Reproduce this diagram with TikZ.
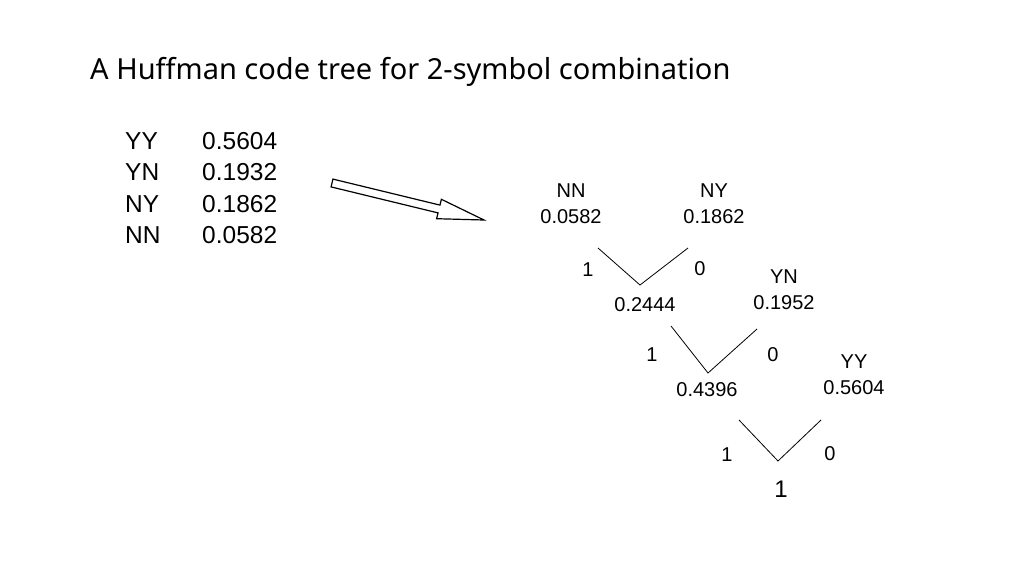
\documentclass[tikz,border=0pt]{standalone}
\usepackage{fontspec}
\setmainfont{Liberation Sans}
\newfontfamily\titlefont{Noto Sans}
\begin{document}
\begin{tikzpicture}[x=1pt,y=-1pt,
  tbl/.style={font=\fontsize{24.5}{28}\selectfont, anchor=west, inner sep=0},
  lbl/.style={font=\fontsize{20}{24}\selectfont, inner sep=0},
  edge/.style={line width=0.8pt}]
\useasboundingbox (0,0) rectangle (1024,576);
\node[anchor=west, inner sep=0, font=\titlefont\fontsize{29}{34}\selectfont] (title) at (90,72) {A Huffman code tree for 2-symbol combination};
\foreach \s/\v/\y [count=\i] in {YY/0.5604/141, YN/0.1932/172, NY/0.1862/204, NN/0.0582/235}{
  \node[tbl] (s\i) at (125,\y) {\s};
  \node[tbl] (v\i) at (202,\y) {\v};
}
\draw[line width=1.2pt] (332.95,179.1) -- (439.95,205.1) -- (441.4,199.3) -- (484,220) -- (436.6,218.7) -- (438.05,212.9) -- (331.05,186.9) -- cycle;
\node[lbl] (nn) at (571,191) {NN}; \node[lbl] (nnv) at (571,217) {0.0582};
\node[lbl] (ny) at (714,191) {NY}; \node[lbl] (nyv) at (714,217) {0.1862};
\node[lbl] (yn) at (784,277) {YN}; \node[lbl] (ynv) at (784,303) {0.1952};
\node[lbl] (yy) at (854,362) {YY}; \node[lbl] (yyv) at (854,388) {0.5604};
\node[lbl] (a) at (645,305) {0.2444};
\node[lbl] (b) at (707,390) {0.4396};
\node[lbl] (l1) at (588,270) {1}; \node[lbl] (r1) at (700,269) {0};
\node[lbl] (l2) at (652,355) {1}; \node[lbl] (r2) at (773,355) {0};
\node[lbl] (l3) at (727,455) {1}; \node[lbl] (r3) at (830,454) {0};
\node[inner sep=0, font=\fontsize{24}{28}\selectfont] (root) at (781,489) {1};
\coordinate (j1) at (640,285); \coordinate (j2) at (708,373); \coordinate (j3) at (778,461);
\coordinate (e1a) at (598,248); \coordinate (e1b) at (688,248);
\coordinate (e2a) at (671,326); \coordinate (e2b) at (757,329);
\coordinate (e3a) at (739,420); \coordinate (e3b) at (821,420);
\draw[edge] (e1a) -- (j1) -- (e1b);
\draw[edge] (e2a) -- (j2) -- (e2b);
\draw[edge] (e3a) -- (j3) -- (e3b);
\end{tikzpicture}
\end{document}
